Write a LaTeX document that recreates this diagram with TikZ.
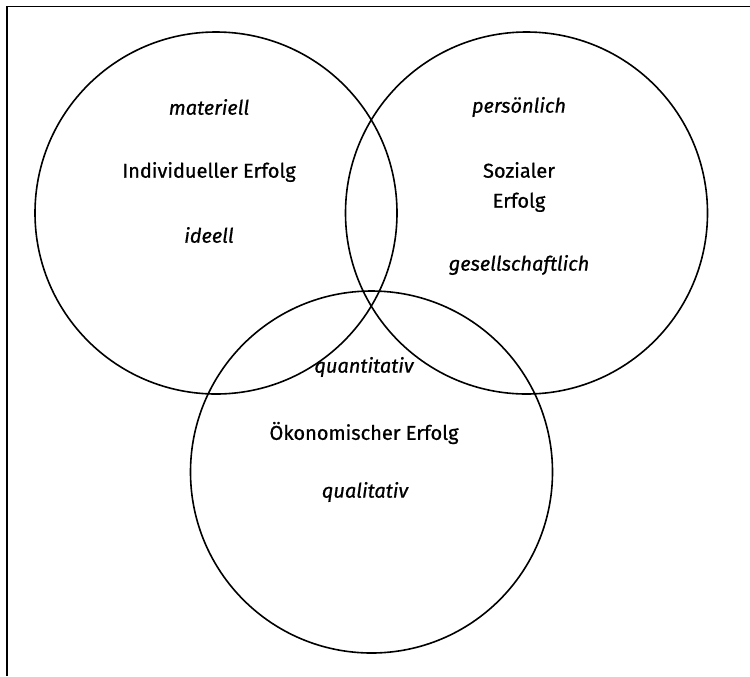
\documentclass[tikz,border=0pt]{standalone}
\usepackage{fontspec}
\setmainfont{Fira Sans}
\newfontfamily\medfont{Fira Sans}[FakeBold=0.8]
\begin{document}
\begin{tikzpicture}[x=0.75pt,y=-0.75pt,
  ring/.style={draw=black,line width=1.2pt,circle,minimum size=362*0.75pt,inner sep=0pt},
  lbl/.style={font=\fontsize{15}{22.5}\medfont,align=center},
  ital/.style={font=\fontsize{15}{18}\medfont\itshape}]
\useasboundingbox (0,0) rectangle (750,676);
\draw[line width=1.3pt] (7,676) -- (7,6.5) -- (750,6.5);
\node[ring] (c1) at (216,213) {};
\node[ring] (c2) at (526.5,213) {};
\node[ring] (c3) at (371.5,472) {};
\node[ital] (m) at (209,107) {materiell};
\node[lbl] (ie) at (209,172) {Individueller Erfolg};
\node[ital] (id) at (209,235) {ideell};
\node[ital] (p) at (519,107) {persönlich};
\node[lbl] (se) at (519,187) {Sozialer\\Erfolg};
\node[ital] (g) at (519,265) {gesellschaftlich};
\node[ital] (qn) at (364,367) {quantitativ};
\node[lbl] (oe) at (364,433) {Ökonomischer Erfolg};
\node[ital] (ql) at (365,492) {qualitativ};
\end{tikzpicture}
\end{document}
